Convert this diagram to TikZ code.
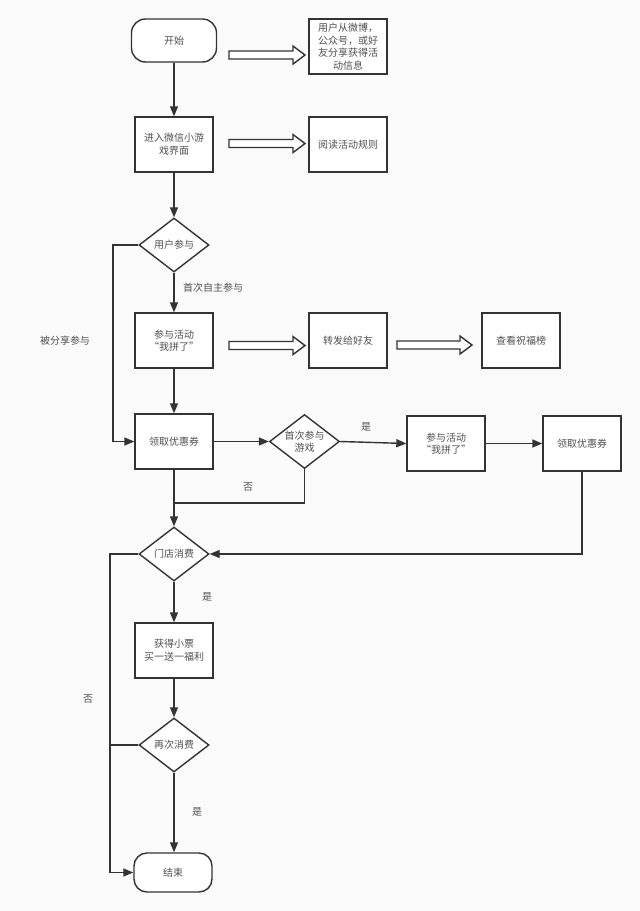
\documentclass[tikz,border=0pt]{standalone}
\usepackage{fontspec}
\setmainfont{Noto Sans CJK SC}
\usetikzlibrary{arrows.meta,shapes.geometric}
\definecolor{ln}{HTML}{333333}
\definecolor{tx}{HTML}{505050}
\definecolor{bg}{HTML}{FAFAFA}
\tikzset{
  base/.style={draw=ln, line width=1.4pt, fill=white, text=tx, align=center, font=\fontsize{10pt}{12.6pt}\selectfont, inner sep=0pt},
  proc/.style={base, rectangle, minimum width=78pt, minimum height=55pt},
  term/.style={base, rectangle, rounded corners=14pt, minimum width=85pt, minimum height=43pt},
  dec/.style={base, diamond, shape aspect=1.3, minimum width=70pt, minimum height=54pt},
  lbl/.style={text=tx, font=\fontsize{10pt}{12.6pt}\selectfont, inner sep=0pt},
  conn/.style={draw=ln, line width=1.4pt, -{Triangle[length=10pt,width=8pt]}},
  plain/.style={draw=ln, line width=1.4pt},
  fat/.style={draw=ln, line width=1.4pt, fill=white, line join=miter}
}
\newcommand{\fatarrow}[3]{\draw[fat] (#1,#3-4) -- (#2-12,#3-4) -- (#2-12,#3-9) -- (#2,#3) -- (#2-12,#3+9) -- (#2-12,#3+4) -- (#1,#3+4) -- cycle;}
\begin{document}
\begin{tikzpicture}[x=1pt,y=-1pt]
\fill[bg] (0,0) rectangle (640,911);
\useasboundingbox (0,0) rectangle (640,911);

\node[term] (start) at (174,40.5) {开始};
\node[proc] (info) at (348,46.5) {用户从微博，\\公众号，或好\\友分享获得活\\动信息};
\node[proc] (enter) at (174,144.5) {进入微信小游\\戏界面};
\node[proc] (rules) at (348,144.5) {阅读活动规则};
\node[dec] (user) at (174,245) {用户参与};
\node[proc] (join1) at (174,340.5) {参与活动\\“我拼了”};
\node[proc] (fwd) at (348,340.5) {转发给好友};
\node[proc] (board) at (521,340.5) {查看祝福榜};
\node[proc] (coupon1) at (174,441.5) {领取优惠券};
\node[dec] (first) at (304.5,441.5) {首次参与\\游戏};
\node[proc] (join2) at (446,443.5) {参与活动\\“我拼了”};
\node[proc] (coupon2) at (582,443.5) {领取优惠券};
\node[dec] (shop) at (174,554) {门店消费};
\node[proc] (ticket) at (174,650.5) {获得小票\\买一送一福利};
\node[dec] (again) at (174,745) {再次消费};
\node[term, minimum width=78pt, minimum height=39pt, rounded corners=13pt] (end) at (173,872.5) {结束};

\fatarrow{229}{305}{55}
\fatarrow{229}{305}{143.5}
\fatarrow{229}{305}{345.5}
\fatarrow{397}{472}{345}

\coordinate (c1) at (113,245);
\coordinate (c2) at (113,441.5);
\coordinate (c3) at (582,554);
\coordinate (c4) at (304.5,503);
\coordinate (c5) at (174,503);
\coordinate (c6) at (110,554);
\coordinate (c7) at (110,872.5);
\coordinate (c8) at (110,745);

\draw[conn] (start) -- (enter);
\draw[conn] (enter) -- (user);
\draw[conn] (user.west) -- (c1) -- (c2) -- (coupon1.west);
\draw[conn] (user) -- (join1);
\draw[conn] (join1) -- (coupon1);
\draw[conn] (coupon1) -- (first);
\draw[conn] (first.east) -- (join2.west);
\draw[conn] (join2) -- (coupon2);
\draw[conn] (coupon2.south) -- (c3) -- (shop.east);
\draw[plain] (first.south) -- (c4) -- (c5);
\draw[conn] (coupon1) -- (shop);
\draw[conn] (shop.west) -- (c6) -- (c7) -- (end.west);
\draw[conn] (shop) -- (ticket);
\draw[conn] (ticket) -- (again);
\draw[plain] (again.west) -- (c8);
\draw[conn] (again.south) -- (again.south |- end.north);

\node[lbl] (l1) at (213,288) {首次自主参与};
\node[lbl] (l2) at (65,341) {被分享参与};
\node[lbl] (l3) at (366,427) {是};
\node[lbl] (l4) at (248,487) {否};
\node[lbl] (l5) at (207,597) {是};
\node[lbl] (l6) at (88,699) {否};
\node[lbl] (l7) at (197,812) {是};
\end{tikzpicture}
\end{document}
